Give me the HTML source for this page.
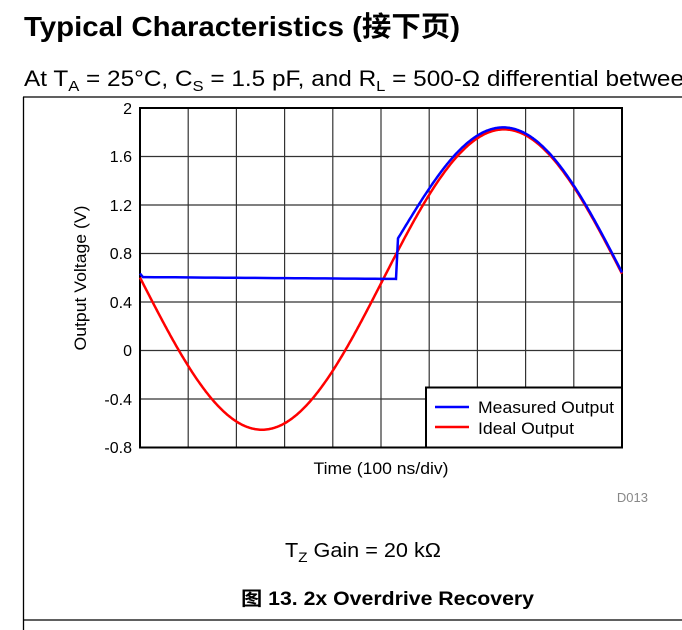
<!DOCTYPE html>
<html><head><meta charset="utf-8"><style>
body{margin:0;background:#fff;width:682px;height:630px;overflow:hidden;font-family:"Liberation Sans","Noto Sans CJK SC",sans-serif}
</style></head><body>
<svg width="682" height="630" xmlns="http://www.w3.org/2000/svg" style="position:absolute;left:0;top:0" font-family="Liberation Sans, Noto Sans CJK SC, sans-serif">
<text x="24" y="36" font-size="28" font-weight="bold" textLength="436" lengthAdjust="spacingAndGlyphs">Typical Characteristics (接下页)</text>
<text x="24" y="86" font-size="22" textLength="660" lengthAdjust="spacingAndGlyphs">At T<tspan font-size="15" dy="5">A</tspan><tspan dy="-5"> = 25°C, C</tspan><tspan font-size="15" dy="5">S</tspan><tspan dy="-5"> = 1.5 pF, and R</tspan><tspan font-size="15" dy="5">L</tspan><tspan dy="-5"> = 500-Ω differential betwee</tspan></text>
<line x1="23" y1="97" x2="682" y2="97" stroke="#000" stroke-width="1.3"/>
<line x1="23.5" y1="97" x2="23.5" y2="630" stroke="#000" stroke-width="1.3"/>
<line x1="23" y1="620" x2="682" y2="620" stroke="#000" stroke-width="1.3"/>
<g id="grid" stroke="#333" stroke-width="1.2"></g>
<rect x="140" y="108" width="482" height="339.5" fill="none" stroke="#000" stroke-width="2"/>
<g font-size="16" text-anchor="end">
<text x="132" y="114">2</text><text x="132" y="162">1.6</text><text x="132" y="211">1.2</text><text x="132" y="259">0.8</text><text x="132" y="308">0.4</text><text x="132" y="356">0</text><text x="132" y="405">-0.4</text><text x="132" y="453">-0.8</text>
</g>
<text transform="translate(86,278) rotate(-90)" font-size="16.5" text-anchor="middle" textLength="145" lengthAdjust="spacingAndGlyphs">Output Voltage (V)</text>
<text x="381" y="474" font-size="16.5" text-anchor="middle" textLength="135" lengthAdjust="spacingAndGlyphs">Time (100 ns/div)</text>
<text x="648" y="502" font-size="13" fill="#888" text-anchor="end">D013</text>
<path id="red" fill="none" stroke="#f00" stroke-width="2.5"/>
<path id="blue" fill="none" stroke="#00f" stroke-width="2.5"/>
<rect x="426" y="387.5" width="196" height="60" fill="#fff" stroke="#000" stroke-width="2"/>
<line x1="435" y1="407" x2="469" y2="407" stroke="#00f" stroke-width="2.5"/>
<line x1="435" y1="427" x2="469" y2="427" stroke="#f00" stroke-width="2.5"/>
<text x="478" y="413" font-size="17" textLength="136" lengthAdjust="spacingAndGlyphs">Measured Output</text>
<text x="478" y="434" font-size="17" textLength="96" lengthAdjust="spacingAndGlyphs">Ideal Output</text>
<text x="285" y="557" font-size="20" textLength="156" lengthAdjust="spacingAndGlyphs">T<tspan font-size="14" dy="5">Z</tspan><tspan dy="-5"> Gain = 20 kΩ</tspan></text>
<text x="241" y="605" font-size="19" font-weight="bold" textLength="293" lengthAdjust="spacingAndGlyphs">图 13. 2x Overdrive Recovery</text>
</svg>
<script>
var g=document.getElementById('grid'),s='';
for(var i=1;i<10;i++){var x=140+i*48.2;s+='<line x1="'+x+'" y1="108" x2="'+x+'" y2="447" stroke="#333" stroke-width="1.2"/>';}
for(var j=1;j<7;j++){var y=108+j*48.5;s+='<line x1="140" y1="'+y+'" x2="622" y2="'+y+'" stroke="#333" stroke-width="1.2"/>';}
g.innerHTML=s;
function Y(v){return 351-v*121.1;}
function ideal(x){return 0.59-1.24*Math.cos((x-262)/484*2*Math.PI);}
var r='',b='';
for(var x=140;x<=622;x+=1){r+=(x==140?'M':'L')+x+','+Y(ideal(x)).toFixed(1);}
b='M140,'+Y(0.64)+'L143,'+Y(0.61);
for(var x=145;x<=396;x+=10){b+='L'+x+','+Y(0.61-0.015*(x-145)/251).toFixed(1);}
b+='L396,'+Y(0.595);
for(var x=398;x<=622;x+=1){b+='L'+x+','+Y(ideal(x)+0.09*Math.exp(-(x-398)/40)+0.01).toFixed(1);}
document.getElementById('red').setAttribute('d',r);
document.getElementById('blue').setAttribute('d',b);
</script>
</body></html>
